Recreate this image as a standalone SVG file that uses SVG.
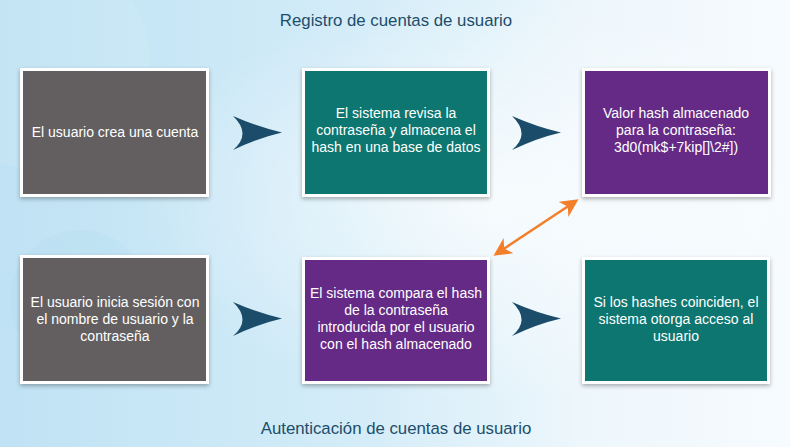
<svg xmlns="http://www.w3.org/2000/svg" width="790" height="447" viewBox="0 0 790 447">
<defs>
<linearGradient id="bg" x1="0" y1="0" x2="1" y2="0">
<stop offset="0" stop-color="#bfe2f4"/>
<stop offset="0.45" stop-color="#d3ecf8"/>
<stop offset="0.75" stop-color="#eef7fc"/>
<stop offset="1" stop-color="#f6fbfe"/>
</linearGradient>
<radialGradient id="glow" cx="0.62" cy="0.45" r="0.45">
<stop offset="0" stop-color="#ffffff" stop-opacity="0.7"/>
<stop offset="1" stop-color="#ffffff" stop-opacity="0"/>
</radialGradient>
<filter id="sh" x="-10%" y="-10%" width="120%" height="125%">
<feDropShadow dx="0" dy="2" stdDeviation="2" flood-color="#000" flood-opacity="0.3"/>
</filter>
<marker id="oh" viewBox="0 0 12 12" refX="10" refY="6" markerWidth="7" markerHeight="7" orient="auto-start-reverse" markerUnits="strokeWidth">
<path d="M0,0 L12,6 L0,12 L3.5,6 Z" fill="#f47f2a"/>
</marker>
</defs>
<style>
.box{stroke:#ffffff;stroke-width:3;filter:url(#sh)}
.gray{fill:#645f60}
.teal{fill:#097670}
.purple{fill:#652c86}
.t{font-family:"Liberation Sans",Arial,sans-serif;font-size:14px;fill:#ffffff;text-anchor:middle}
.title{font-family:"Liberation Sans",Arial,sans-serif;font-size:16.8px;fill:#1c4d6b;text-anchor:middle}
.chev{fill:#1b4c69}
</style>
<rect width="790" height="447" fill="url(#bg)"/>
<rect width="790" height="447" fill="url(#glow)"/>
<circle cx="40" cy="60" r="110" fill="#ffffff" opacity="0.08"/>
<circle cx="80" cy="300" r="70" fill="#a9d6ee" opacity="0.15"/>

<text class="title" x="396" y="26">Registro de cuentas de usuario</text>
<text class="title" x="396" y="434">Autenticación de cuentas de usuario</text>

<g id="n1">
<rect class="box gray" x="21.5" y="69.5" width="186" height="126"/>
<text class="t" x="115" y="137">El usuario crea una cuenta</text>
</g>
<g id="n2">
<rect class="box teal" x="303.5" y="69.5" width="185" height="126"/>
<text class="t" x="396" y="118">El sistema revisa la</text>
<text class="t" x="396" y="135">contraseña y almacena el</text>
<text class="t" x="396" y="152">hash en una base de datos</text>
</g>
<g id="n3">
<rect class="box purple" x="583.5" y="69.5" width="186" height="126"/>
<text class="t" x="676" y="118">Valor hash almacenado</text>
<text class="t" x="676" y="135">para la contraseña:</text>
<text class="t" x="676" y="152">3d0(mk$+7kip[]\2#])</text>
</g>
<g id="n4">
<rect class="box gray" x="21.5" y="256.5" width="186" height="126"/>
<text class="t" x="115" y="307">El usuario inicia sesión con</text>
<text class="t" x="115" y="324">el nombre de usuario y la</text>
<text class="t" x="115" y="341">contraseña</text>
</g>
<g id="n5">
<rect class="box purple" x="303.5" y="258.5" width="185" height="124"/>
<text class="t" x="396" y="298">El sistema compara el hash</text>
<text class="t" x="396" y="315">de la contraseña</text>
<text class="t" x="396" y="332">introducida por el usuario</text>
<text class="t" x="396" y="349">con el hash almacenado</text>
</g>
<g id="n6">
<rect class="box teal" x="583.5" y="258.5" width="185" height="124"/>
<text class="t" x="676" y="307">Si los hashes coinciden, el</text>
<text class="t" x="676" y="324">sistema otorga acceso al</text>
<text class="t" x="676" y="341">usuario</text>
</g>

<g id="connectors">
<path class="chev" d="M233,116 Q258,127 282,132.5 Q258,138 233,150 Q252,134 233,116 Z"/>
<path class="chev" d="M512,116 Q537,127 561,132.5 Q537,138 512,150 Q531,134 512,116 Z"/>
<path class="chev" d="M233,302 Q258,313 282,318.5 Q258,324 233,336 Q252,320 233,302 Z"/>
<path class="chev" d="M512,302 Q537,313 561,318.5 Q537,324 512,336 Q531,320 512,302 Z"/>
<line x1="496" y1="254" x2="576" y2="201" stroke="#f47f2a" stroke-width="2.6" marker-start="url(#oh)" marker-end="url(#oh)"/>
</g>
</svg>
